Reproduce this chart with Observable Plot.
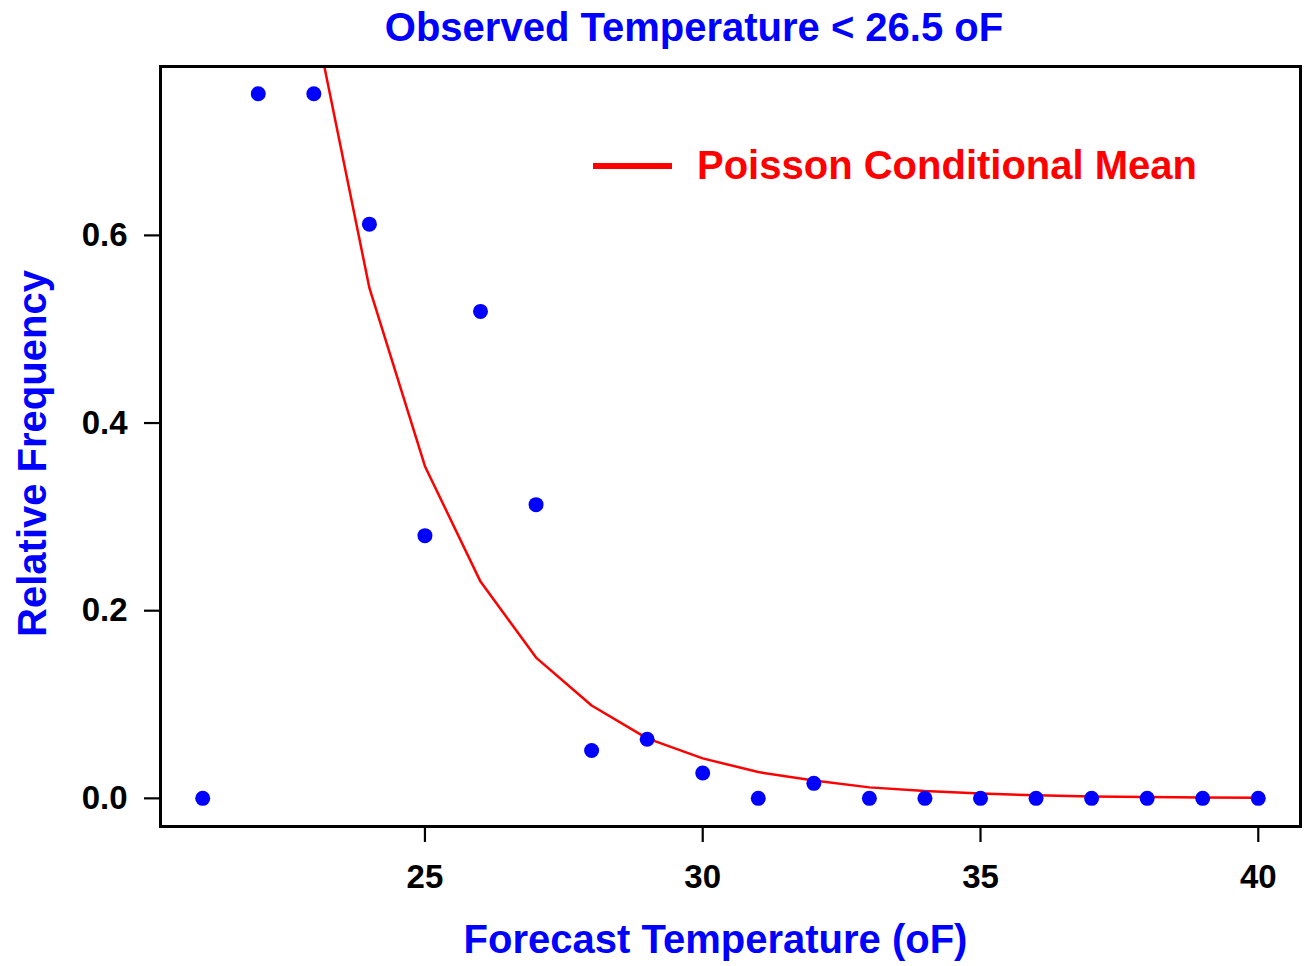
<!DOCTYPE html>
<html>
<head>
<meta charset="utf-8">
<script src="https://cdn.jsdelivr.net/npm/d3@7"></script>
<script src="https://cdn.jsdelivr.net/npm/@observablehq/plot@0.6"></script>
<style>
  html, body { margin: 0; padding: 0; background: #fff; }
  body { width: 1304px; height: 966px; position: relative; overflow: hidden;
         font-family: "Liberation Sans", Arial, sans-serif; font-weight: bold; }
  #title { position: absolute; left: 0; top: 0; width: 1388px; height: 54px; line-height: 54px;
           text-align: center; font-size: 40px; color: #0000ff; }
  #chart { position: absolute; left: 0; top: 50px; }
  #legend { position: absolute; left: 593px; top: 140px; height: 50px; }
  #legend .sw { position: absolute; left: 0; top: 23px; width: 79px; height: 5.5px; background: #ff0000; }
  #legend .lab { position: absolute; left: 104px; top: 0; height: 50px; line-height: 50px;
                 font-size: 40px; color: #ff0000; white-space: nowrap; }
</style>
</head>
<body>
<div id="title">Observed Temperature &lt; 26.5 oF</div>
<div id="chart"></div>
<div id="legend"><div class="sw"></div><div class="lab">Poisson Conditional Mean</div></div>
<script>
// Observed relative frequencies
const obsTemp = [21, 22, 23, 24, 25, 26, 27, 28, 29, 30, 31, 32, 33, 34, 35, 36, 37, 38, 39, 40];
const obsFreq = [0, 0.751, 0.751, 0.612, 0.280, 0.519, 0.313, 0.051, 0.063, 0.027, 0, 0.016, 0, 0, 0, 0, 0, 0, 0, 0];

// Poisson conditional mean curve
const fitTemp = [23, 24, 25, 26, 27, 28, 29, 30, 31, 32, 33, 34, 35, 36, 37, 38, 39, 40];
const fitMean = [0.835, 0.544, 0.354, 0.231, 0.150, 0.099, 0.064, 0.0426, 0.028, 0.019, 0.0117, 0.0078, 0.0053, 0.0032, 0.0021, 0.0014, 0.0009, 0.0006];

const xTicks = [25, 30, 35, 40];
const yTicks = [0, 0.2, 0.4, 0.6];

const obs = obsTemp.map((t, i) => ({t, f: obsFreq[i]}));
const fit = fitTemp.map((t, i) => ({t, f: fitMean[i]}));

const chart = Plot.plot({
  width: 1304,
  height: 916,
  marginLeft: 160,
  marginRight: 4,
  marginTop: 16,
  marginBottom: 140,
  style: {fontFamily: "'Liberation Sans', Arial, sans-serif", fontWeight: "bold", background: "#fff", color: "#000"},
  x: {domain: [20.24, 40.76]},
  y: {domain: [-0.03, 0.78]},
  marks: [
    Plot.axisX(xTicks, {tickSize: 16, tickPadding: 22, fontSize: 33, strokeWidth: 2.2, label: null, tickFormat: d => String(d)}),
    Plot.axisY(yTicks, {tickSize: 16, tickPadding: 17, fontSize: 33, strokeWidth: 2.2, label: null, tickFormat: d3.format(".1f")}),
    Plot.line(fit, {x: "t", y: "f", stroke: "#ff0000", strokeWidth: 2.5, clip: true}),
    Plot.dot(obs, {x: "t", y: "f", r: 7.5, fill: "#0000ff", stroke: "none"}),
    Plot.frame({stroke: "#000", strokeWidth: 3}),
    Plot.text(["Forecast Temperature (oF)"], {frameAnchor: "bottom", dy: 126, dx: -15, fontSize: 40, fill: "#0000ff", fontWeight: "bold"}),
    Plot.text(["Relative Frequency"], {frameAnchor: "left", textAnchor: "middle", rotate: -90, dx: -127, dy: 7, fontSize: 40, fill: "#0000ff", fontWeight: "bold"})
  ]
});
document.getElementById("chart").appendChild(chart);
</script>
</body>
</html>
